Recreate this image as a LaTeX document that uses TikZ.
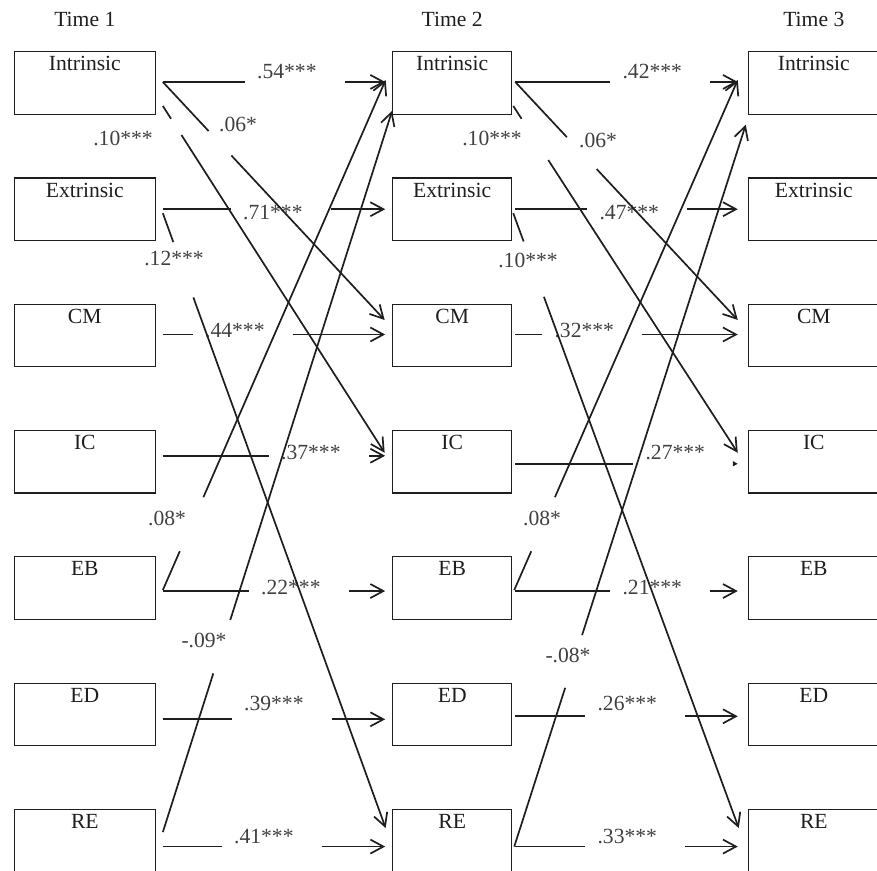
\documentclass[tikz,border=0pt]{standalone}
\usepackage{fontspec}
\setmainfont{Liberation Serif}
\usepackage{tikz}
\usetikzlibrary{calc,positioning,arrows.meta}
\tikzset{every picture/.append style={font=\fontsize{10.8}{13}\selectfont}}
\definecolor{figink}{HTML}{1E1E1E}
\definecolor{figval}{HTML}{404040}

\begin{document}
\begin{tikzpicture}[x=0.5pt,y=-0.5pt,
    box/.style={draw=figink,line width=0.55pt,minimum height=31.25pt,inner sep=0pt},
    boxlab/.style={anchor=north,inner sep=2.5pt,text=figink},
    hdr/.style={inner sep=2pt,text=figink},
    val/.style={inner sep=1pt,text=figval},
    arr/.style={draw=figink,line width=0.85pt,-{Straight Barb[length=6.5pt,width=7pt]}},
    tinyarr/.style={draw=figink,line width=0.85pt,-{Triangle[length=2.5pt,width=2.5pt]}}]
  \useasboundingbox (0,0) rectangle (877,871);
  % boxes, one column per wave
  \foreach \n/\nm [count=\k from 0] in {i/Intrinsic,e/Extrinsic,cm/CM,ic/IC,eb/EB,ed/ED,re/RE} {
    \node[box,minimum width=70.5pt,label={[boxlab]north:\nm}] (\n1) at (84.8,82.95+126.27*\k) {};
    \node[box,minimum width=59.5pt,label={[boxlab]north:\nm}] (\n2) at (452.2,82.95+126.27*\k) {};
    \node[box,minimum width=65.5pt,label={[boxlab]north:\nm}] (\n3) at (813.8,82.95+126.27*\k) {};
  }
  \node[hdr,above=10pt of i1.north] {Time 1};
  \node[hdr,above=10pt of i2.north] {Time 2};
  \node[hdr,above=10pt of i3.north] {Time 3};
  % stability paths, time 1 -> time 2
  \foreach \n/\dy/\g/\ly/\v in {i/-1/82/-10/.54***,e/0/68/3/.71***,cm/-1/30/-4/.44***,
      ic/-6/106/-3/.37***,eb/3/86/-4/.22***,ed/5/69/-16/.39***,re/6/59/-10/.41***} {
    \draw[arr] ($(\n1.east)+(7,\dy)$) -- ++(\g,0) ++(100,0) -- ($(\n2.west)+(-7,\dy)$);
    \node[val] at ($(\n1.east)+(49+\g,\dy+\ly)$) {\v};
  }
  % stability paths, time 2 -> time 3
  \foreach \n/\dy/\g/\ly/\v/\st in {i/-1/95/-10/.42***/arr,e/0/72/3/.47***/arr,cm/-1/27/-4/.32***/arr,
      ic/2/118/-11/.27***/tinyarr,eb/3/95/-4/.21***/arr,ed/2/70/-13/.26***/arr,re/6/70/-10/.33***/arr} {
    \draw[\st] ($(\n2.east)+(3,\dy)$) -- ++(\g,0) ++(100,0) -- ($(\n3.west)+(-10,\dy)$);
    \node[val] at ($(\n2.east)+(45+\g,\dy+\ly)$) {\v};
  }
  % cross-lagged paths
  \coordinate (a1) at ($(i1.east)+(7,-1)$);    \coordinate (b1) at ($(cm2.west)+(-7.5,-15.5)$);
  \coordinate (a2) at ($(i1.east)+(7,23)$);    \coordinate (b2) at ($(ic2.west)+(-7.5,-9)$);
  \coordinate (a3) at ($(e1.east)+(7,4)$);     \coordinate (b3) at ($(re2.west)+(-6.5,-12.5)$);
  \coordinate (a4) at ($(eb1.east)+(7,2)$);    \coordinate (b4) at ($(i2.west)+(-6.5,-3)$);
  \coordinate (a5) at ($(re1.east)+(7,-8.5)$); \coordinate (b5) at ($(i2.south west)+(0,-4)$);
  \coordinate (a6) at ($(i2.east)+(3,-1)$);    \coordinate (b6) at ($(cm3.west)+(-10,-15.5)$);
  \coordinate (a7) at ($(i2.east)+(1,23)$);    \coordinate (b7) at ($(ic3.west)+(-10,-9)$);
  \coordinate (a8) at ($(e2.east)+(1,4)$);     \coordinate (b8) at ($(re3.west)+(-9,-12.5)$);
  \coordinate (a9) at ($(eb2.east)+(2,2)$);    \coordinate (b9) at ($(i3.west)+(-10,-3)$);
  \coordinate (a10) at ($(re2.east)+(2,6)$);   \coordinate (b10) at ($(i3.south west)+(-2,10)$);
  \foreach \k/\p/\q in {1/.206/.309,2/.037/.084,3/.047/.137,4/.076/.182,5/.220/.294,
      6/.232/.366,7/.037/.156,8/.046/.136,9/.076/.182,10/.220/.293}
    \draw[arr] (a\k) -- ($(a\k)!\p!(b\k)$) ($(a\k)!\q!(b\k)$) -- (b\k);
  \node[val] at (238,124) {.06*};
  \node[val] at (123,138) {.10***};
  \node[val] at (174,259) {.12***};
  \node[val] at (167,518) {.08*};
  \node[val] at (204,640) {-.09*};
  \node[val] at (598,140) {.06*};
  \node[val] at (492,138) {.10***};
  \node[val] at (528,260) {.10***};
  \node[val] at (542,518) {.08*};
  \node[val] at (568,655) {-.08*};
\end{tikzpicture}
\end{document}
